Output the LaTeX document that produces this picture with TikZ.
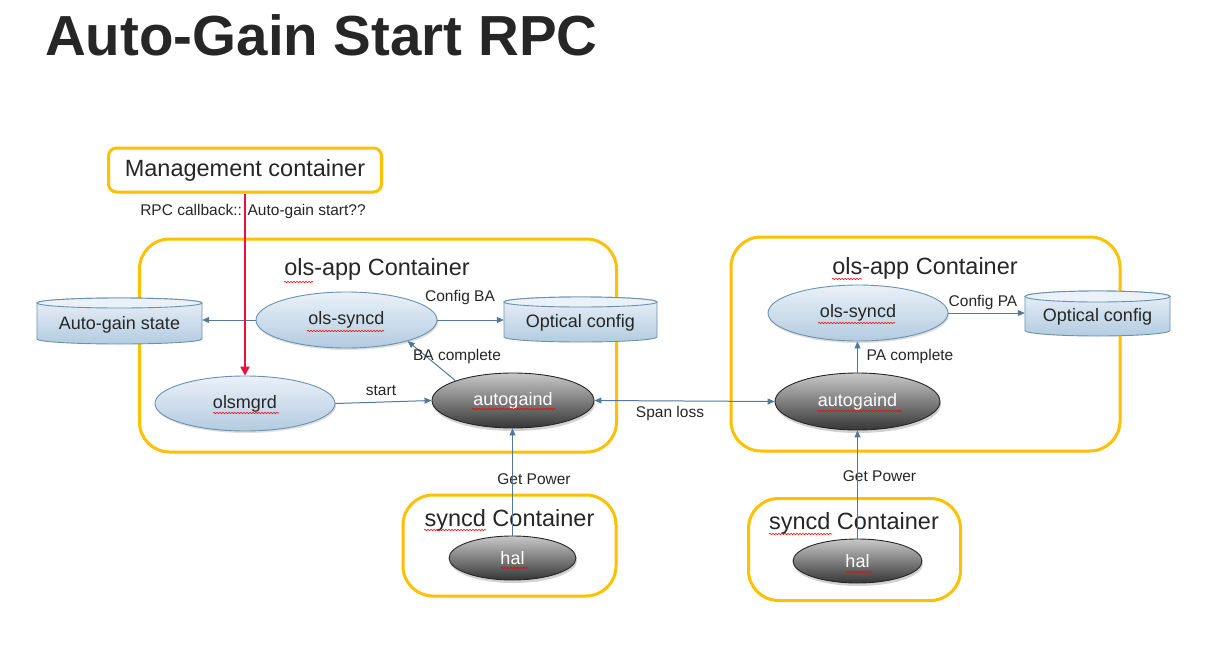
\documentclass[tikz,border=0pt]{standalone}
\usepackage{fontspec}
\setmainfont{Liberation Sans}
\usetikzlibrary{arrows.meta,shapes.geometric,shadows,decorations.pathmorphing}
\definecolor{gold}{HTML}{FFC000}
\definecolor{conn}{HTML}{52799A}
\definecolor{txt}{HTML}{262626}
\definecolor{lightTop}{HTML}{EAF1F8}
\definecolor{lightBot}{HTML}{B3CBE0}
\definecolor{lightEdge}{HTML}{6A91AE}
\definecolor{darkTop}{HTML}{C8C8C8}
\definecolor{darkBot}{HTML}{363636}
\definecolor{rpcred}{HTML}{E8113C}
\tikzset{
  container/.style={draw=gold, line width=3pt, rounded corners=30pt, inner sep=0pt},
  ctitle/.style={text=txt, font=\fontsize{23.5}{27}\selectfont},
  lightell/.style={ellipse, draw=lightEdge, line width=0.9pt, top color=lightTop, bottom color=lightBot,
    inner sep=0pt, text=txt, font=\fontsize{18}{21}\selectfont,
    drop shadow={opacity=0.25, shadow xshift=1pt, shadow yshift=-2pt}},
  darkell/.style={ellipse, draw=black!85, line width=0.9pt, top color=darkTop, bottom color=darkBot,
    inner sep=0pt, text=white, font=\fontsize{18}{21}\selectfont,
    drop shadow={opacity=0.35, shadow xshift=1pt, shadow yshift=-3pt}},
  cyltext/.style={inner sep=0pt, text=txt, font=\fontsize{18}{21}\selectfont},
  cylbody/.style={draw=lightEdge, line width=0.9pt, top color=lightTop, bottom color=lightBot},
  cyltop/.style={draw=lightEdge, line width=0.9pt, fill=lightTop},
  conn/.style={draw=conn, line width=1pt, -{Triangle[length=7pt,width=6pt]}},
  elabel/.style={text=txt, font=\fontsize{15.5}{18}\selectfont, inner sep=1pt},
  squig/.style={draw=red, line width=0.6pt, decorate, decoration={snake, segment length=3pt, amplitude=0.7pt}},
}
\begin{document}
\begin{tikzpicture}[x=1pt,y=-1pt]
\useasboundingbox (0,0) rectangle (1224,648);
\fill[white] (0,0) rectangle (1224,648);

% title
\node[anchor=base west, inner sep=0pt, text=txt, font=\fontsize{56.5}{60}\selectfont\bfseries] (title) at (45,55) {Auto-Gain Start RPC};

% containers
\node[container, minimum width=477pt, minimum height=213pt] (appL) at (378,345.5) {};
\node[container, minimum width=389pt, minimum height=214pt] (appR) at (925.5,344) {};
\node[container, minimum width=213pt, minimum height=101pt] (syncL) at (509.5,545.5) {};
\node[container, minimum width=212pt, minimum height=102pt] (syncR) at (854.5,549.5) {};
\node[draw=gold, line width=3pt, rounded corners=8pt, minimum width=273pt, minimum height=44pt, inner sep=0pt,
      ctitle, font=\fontsize{23.5}{27}\selectfont] (mgmt) at (245,170) {Management container};

\node[ctitle] (appLt) at (377,269) {ols-app Container};
\node[ctitle] (appRt) at (925,268) {ols-app Container};
\node[ctitle] (syncLt) at (509.5,520) {syncd Container};
\node[ctitle] (syncRt) at (854,523) {syncd Container};

% cylinders
% Auto-gain state
\path[cylbody] (37,303) -- (37,339) arc[start angle=180,end angle=360,x radius=82.5pt,y radius=5pt]
  -- (202,303) arc[start angle=0,end angle=180,x radius=82.5pt,y radius=5pt] -- cycle;
\path[cyltop] (119.5,303) ellipse[x radius=82.5pt, y radius=5pt];
\node[cyltext, minimum width=165pt, minimum height=36pt] (ags) at (119.5,325) {Auto-gain state};
% Optical config left
\path[cylbody] (504,302) -- (504,337) arc[start angle=180,end angle=360,x radius=76.5pt,y radius=5pt]
  -- (657,302) arc[start angle=0,end angle=180,x radius=76.5pt,y radius=5pt] -- cycle;
\path[cyltop] (580.5,302) ellipse[x radius=76.5pt, y radius=5pt];
\node[cyltext, minimum width=153pt, minimum height=34pt] (ocL) at (580.5,323) {Optical config};
% Optical config right
\path[cylbody] (1025,296.5) -- (1025,330.5) arc[start angle=180,end angle=360,x radius=72.5pt,y radius=5.5pt]
  -- (1170,296.5) arc[start angle=0,end angle=180,x radius=72.5pt,y radius=5.5pt] -- cycle;
\path[cyltop] (1097.5,296.5) ellipse[x radius=72.5pt, y radius=5.5pt];
\node[cyltext, minimum width=145pt, minimum height=34pt] (ocR) at (1097.5,317) {Optical config};

% ellipses
\node[lightell, minimum width=181pt, minimum height=56pt] (sL) at (346.5,320) {ols-syncd};
\node[lightell, minimum width=180pt, minimum height=55pt] (mgrd) at (245,403.5) {olsmgrd};
\node[darkell, minimum width=162pt, minimum height=55pt] (aL) at (513,400.5) {autogaind};
\node[lightell, minimum width=180pt, minimum height=56pt] (sR) at (858,313) {ols-syncd};
\node[darkell, minimum width=165pt, minimum height=57pt] (aR) at (857.5,401.5) {autogaind};
\node[darkell, minimum width=127pt, minimum height=44pt] (halL) at (512.5,558) {hal};
\node[darkell, minimum width=129pt, minimum height=44pt] (halR) at (857.5,561) {hal};

% connectors
\draw[conn] (sL.west) -- (sL.west -| ags.east);
\draw[conn] (sL.east) -- (sL.east -| ocL.west);
\node[elabel] (lcba) at (460,297) {Config BA};
\draw[conn] (aL.161) -- (sL.-19);
\node[elabel] (lbac) at (457,356) {BA complete};
\draw[conn] (mgrd.east) -- (aL.west);
\node[elabel] (lstart) at (381,391) {start};
\draw[conn, {Triangle[length=7pt,width=6pt]}-{Triangle[length=7pt,width=6pt]}] (aL.east) -- (aR.west);
\node[elabel] (lspan) at (670,413) {Span loss};
\draw[conn] (aR.north) -- (aR.north |- sR.south);
\node[elabel] (lpac) at (910,356) {PA complete};
\draw[conn] (sR.east) -- (sR.east -| ocR.west);
\node[elabel] (lcpa) at (983,302) {Config PA};
\node[elabel] (lgpL) at (534,479) {Get Power};
\node[elabel] (lgpR) at (879.5,476) {Get Power};
\draw[conn] (halL.north) -- (halL.north |- aL.south);
\draw[conn] (halR.north) -- (halR.north |- aR.south);

% RPC arrow
\node[elabel] (lrpc) at (253,211) {RPC callback:: Auto-gain start??};
\draw[draw=rpcred, line width=2.6pt, -{Triangle[length=9pt,width=9pt]}] (mgmt.south) -- (mgrd.north);

% spell-check squiggles
\draw[squig] (284,282) -- (313,282);
\draw[squig] (832,279) -- (862,279);
\draw[squig] (307,331) -- (384,331);
\draw[squig] (818,323) -- (895,323);
\draw[squig] (213,413) -- (279,413);
\draw[squig] (472,409) -- (555,409);
\draw[squig] (817,411) -- (902,411);
\draw[squig] (501,568) -- (528,568);
\draw[squig] (845,572) -- (872,572);
\draw[squig] (424,530) -- (486,530);
\draw[squig] (769,534) -- (832,534);
\end{tikzpicture}
\end{document}
